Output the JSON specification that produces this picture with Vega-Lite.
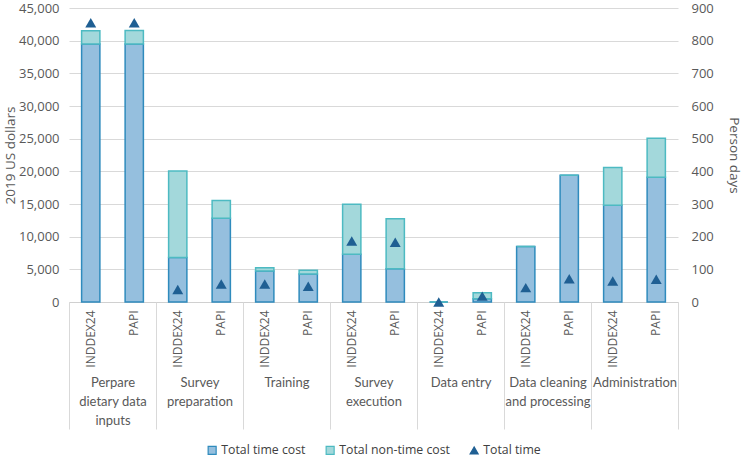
{
  "$schema": "https://vega.github.io/schema/vega-lite/v6.json",
  "width": 609,
  "height": 294,
  "padding": {"left": 3, "top": 2, "right": 0, "bottom": 4},
  "background": "white",
  "config": {
    "view": {"stroke": null},
    "font": "Open Sans",
    "axis": {"labelColor": "#595959", "titleColor": "#595959", "labelFont": "Open Sans", "titleFont": "Open Sans", "titleFontWeight": "normal"},
    "legend": {"labelColor": "#404040", "labelFont": "Open Sans", "labelFontSize": 12.5, "layout": {"bottom": {"anchor": "middle"}}}
  },
  "datasets": {
    "costs": [
      {"key": "1-INDDEX24", "component": "Total time cost", "value": 39500},
      {"key": "1-INDDEX24", "component": "Total non-time cost", "value": 2000},
      {"key": "1-PAPI", "component": "Total time cost", "value": 39500},
      {"key": "1-PAPI", "component": "Total non-time cost", "value": 2050},
      {"key": "2-INDDEX24", "component": "Total time cost", "value": 6800},
      {"key": "2-INDDEX24", "component": "Total non-time cost", "value": 13250},
      {"key": "2-PAPI", "component": "Total time cost", "value": 12800},
      {"key": "2-PAPI", "component": "Total non-time cost", "value": 2750},
      {"key": "3-INDDEX24", "component": "Total time cost", "value": 4750},
      {"key": "3-INDDEX24", "component": "Total non-time cost", "value": 500},
      {"key": "3-PAPI", "component": "Total time cost", "value": 4300},
      {"key": "3-PAPI", "component": "Total non-time cost", "value": 550},
      {"key": "4-INDDEX24", "component": "Total time cost", "value": 7300},
      {"key": "4-INDDEX24", "component": "Total non-time cost", "value": 7650},
      {"key": "4-PAPI", "component": "Total time cost", "value": 5100},
      {"key": "4-PAPI", "component": "Total non-time cost", "value": 7650},
      {"key": "5-INDDEX24", "component": "Total time cost", "value": 0},
      {"key": "5-INDDEX24", "component": "Total non-time cost", "value": 0},
      {"key": "5-PAPI", "component": "Total time cost", "value": 500},
      {"key": "5-PAPI", "component": "Total non-time cost", "value": 900},
      {"key": "6-INDDEX24", "component": "Total time cost", "value": 8500},
      {"key": "6-INDDEX24", "component": "Total non-time cost", "value": 0},
      {"key": "6-PAPI", "component": "Total time cost", "value": 19400},
      {"key": "6-PAPI", "component": "Total non-time cost", "value": 0},
      {"key": "7-INDDEX24", "component": "Total time cost", "value": 14800},
      {"key": "7-INDDEX24", "component": "Total non-time cost", "value": 5800},
      {"key": "7-PAPI", "component": "Total time cost", "value": 19100},
      {"key": "7-PAPI", "component": "Total non-time cost", "value": 5950}
    ],
    "days": [
      {"key": "1-INDDEX24", "component": "Total time", "days": 855},
      {"key": "1-PAPI", "component": "Total time", "days": 855},
      {"key": "2-INDDEX24", "component": "Total time", "days": 38},
      {"key": "2-PAPI", "component": "Total time", "days": 55},
      {"key": "3-INDDEX24", "component": "Total time", "days": 55},
      {"key": "3-PAPI", "component": "Total time", "days": 48},
      {"key": "4-INDDEX24", "component": "Total time", "days": 187},
      {"key": "4-PAPI", "component": "Total time", "days": 183},
      {"key": "5-INDDEX24", "component": "Total time", "days": 0},
      {"key": "5-PAPI", "component": "Total time", "days": 18},
      {"key": "6-INDDEX24", "component": "Total time", "days": 44},
      {"key": "6-PAPI", "component": "Total time", "days": 71},
      {"key": "7-INDDEX24", "component": "Total time", "days": 64},
      {"key": "7-PAPI", "component": "Total time", "days": 70}
    ],
    "groups": [
      {"group": "Perpare|dietary data|inputs"},
      {"group": "Survey|preparation"},
      {"group": "Training"},
      {"group": "Survey|execution"},
      {"group": "Data entry"},
      {"group": "Data cleaning|and processing"},
      {"group": "Administration"}
    ]
  },
  "layer": [
    {
      "layer": [
        {
          "data": {"name": "costs"},
          "mark": {"type": "bar", "strokeWidth": 1.5},
          "encoding": {
            "x": {
              "field": "key", "type": "nominal",
              "scale": {"type": "band", "paddingInner": 0.58, "paddingOuter": 0.29},
              "axis": {"orient": "bottom", "title": null, "labelAngle": -90, "labelExpr": "split(datum.label, '-')[1]", "labelFontSize": 12, "labelPadding": 8, "ticks": false, "domain": true, "domainColor": "#d0d0d0", "labelColor": "#595959"}
            },
            "y": {
              "field": "value", "type": "quantitative", "aggregate": "sum", "stack": "zero",
              "scale": {"domain": [0, 45000], "nice": false},
              "axis": {"orient": "left", "title": "2019 US dollars", "values": [0, 5000, 10000, 15000, 20000, 25000, 30000, 35000, 40000, 45000], "format": ",.0f", "grid": true, "gridColor": "#d9d9d9", "domain": false, "ticks": false, "labelFontSize": 13, "titleFontSize": 13.5, "labelPadding": 10, "titlePadding": 1}
            },
            "color": {
              "field": "component", "type": "nominal",
              "scale": {"domain": ["Total time cost", "Total non-time cost", "Total time"], "range": ["#95bfde", "#a3d8db", "#1f5f93"]},
              "legend": {"title": null, "orient": "bottom", "direction": "horizontal", "symbolSize": 64, "symbolStrokeWidth": 1.2, "columnPadding": 17, "labelOffset": 3, "labelFontSize": 12.3, "offset": 14}
            },
            "stroke": {
              "field": "component", "type": "nominal",
              "scale": {"domain": ["Total time cost", "Total non-time cost", "Total time"], "range": ["#2f8bbd", "#4dbac2", "#1f5f93"]},
              "legend": {"title": null, "orient": "bottom", "direction": "horizontal"}
            },
            "order": {"field": "component", "sort": "descending"}
          }
        },
        {
          "data": {"name": "days"},
          "mark": {"type": "point", "filled": true, "opacity": 1, "size": 120},
          "encoding": {
            "x": {"field": "key", "type": "nominal"},
            "y": {
              "field": "days", "type": "quantitative",
              "scale": {"domain": [0, 900], "nice": false},
              "axis": {"orient": "right", "title": "Person days", "values": [0, 100, 200, 300, 400, 500, 600, 700, 800, 900], "grid": false, "domain": false, "ticks": false, "labelFontSize": 13, "titleFontSize": 13.5, "labelPadding": 13, "titlePadding": 13}
            },
            "color": {"field": "component", "type": "nominal"},
            "shape": {
              "field": "component", "type": "nominal",
              "scale": {"domain": ["Total time cost", "Total non-time cost", "Total time"], "range": ["square", "square", "triangle-up"]},
              "legend": {"title": null, "orient": "bottom", "direction": "horizontal"}
            }
          }
        }
      ],
      "resolve": {"scale": {"y": "independent"}}
    },
    {
      "data": {"name": "groups"},
      "mark": {"type": "rule", "opacity": 0},
      "encoding": {
        "x": {
          "field": "group", "type": "nominal",
          "scale": {"type": "band", "paddingInner": 0, "paddingOuter": 0, "domain": ["Perpare|dietary data|inputs", "Survey|preparation", "Training", "Survey|execution", "Data entry", "Data cleaning|and processing", "Administration"]},
          "axis": {"orient": "bottom", "title": null, "labelAngle": 0, "labelExpr": "split(datum.label, '|')", "labelFont": "Lato", "labelFontSize": 13, "labelLineHeight": 19, "labelColor": "#595959", "ticks": true, "tickBand": "extent", "tickSize": 127, "tickColor": "#d9d9d9", "domain": false, "labelPadding": -53, "labelOverlap": false, "labelLimit": 0}
        }
      }
    }
  ],
  "resolve": {"scale": {"x": "independent"}}
}
